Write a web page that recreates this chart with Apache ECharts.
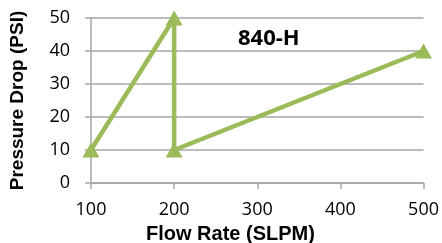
<!DOCTYPE html>
<html>
<head>
<meta charset="utf-8">
<script src="https://cdn.jsdelivr.net/npm/echarts@6/dist/echarts.min.js"></script>
<style>
  html, body { margin: 0; padding: 0; background: #fff; }
  #chart { width: 442px; height: 243px; }
</style>
</head>
<body>
<div id="chart"></div>
<script>
const flowRate = [100, 200, 200, 500]
const pressureDrop = [10, 50, 10, 40]
const xTicks = [100, 200, 300, 400, 500]
const yTicks = [0, 10, 20, 30, 40, 50]

const chart = echarts.init(document.getElementById('chart'))
const font = '"Open Sans", "Liberation Sans", sans-serif'
const titleFont = '"Liberation Sans", Arial, sans-serif'
const gray = '#a6a6a6'

const option = {
  animation: false,
  backgroundColor: '#fff',
  grid: { left: 91, right: 18, top: 18, bottom: 60 },
  title: [
    {
      text: '840-H',
      left: 233, top: 23,
      textStyle: { fontFamily: font, fontSize: 22, fontWeight: 'bold', color: '#000' }
    },
    {
      text: 'Flow Rate (SLPM)',
      left: 141, top: 219,
      textStyle: { fontFamily: titleFont, fontSize: 20, fontWeight: 'bold', color: '#000' }
    }
  ],
  xAxis: {
    type: 'value',
    min: xTicks[0], max: xTicks[xTicks.length - 1], interval: 100,
    axisLine: { show: true, lineStyle: { color: gray, width: 1.5 } },
    axisTick: { show: true, length: 6, lineStyle: { color: gray, width: 1.5 } },
    axisLabel: { margin: 18, fontFamily: font, fontSize: 18, color: '#000' },
    splitLine: { show: false }
  },
  yAxis: {
    type: 'value',
    min: yTicks[0], max: yTicks[yTicks.length - 1], interval: 10,
    name: 'Pressure Drop (PSI)',
    nameLocation: 'middle',
    nameGap: 64,
    nameTextStyle: { fontFamily: titleFont, fontSize: 19, fontWeight: 'bold', color: '#000' },
    axisLine: { show: true, lineStyle: { color: gray, width: 1.5 } },
    axisTick: { show: true, length: 6, lineStyle: { color: gray, width: 1.5 } },
    axisLabel: { margin: 21, fontFamily: font, fontSize: 18, color: '#000' },
    splitLine: { show: true, lineStyle: { color: gray, width: 1.5 } }
  },
  series: [
    {
      type: 'line',
      data: flowRate.map((x, i) => [x, pressureDrop[i]]),
      symbol: 'triangle',
      symbolSize: [17, 15],
      lineStyle: { color: '#9bbb59', width: 4.5 },
      itemStyle: { color: '#9bbb59' }
    }
  ]
}

chart.setOption(option)
</script>
</body>
</html>
